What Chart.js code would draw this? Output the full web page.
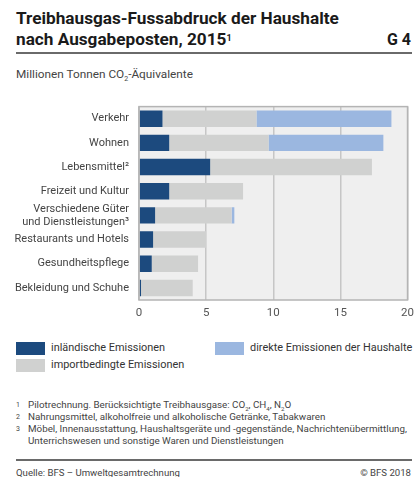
<!DOCTYPE html>
<html><head><meta charset="utf-8">
<script src="https://cdn.jsdelivr.net/npm/chart.js@4/dist/chart.umd.min.js"></script>
<style>
html,body{margin:0;padding:0;background:#fff;width:420px;height:477px;overflow:hidden;font-family:Roboto,"Liberation Sans",sans-serif;color:#222}
.abs{position:absolute;white-space:nowrap}
#title{left:16px;top:8px;font-size:17.2px;font-weight:bold;line-height:21px;color:#1a1a1a}
#title sup{font-size:9px;vertical-align:top;position:relative;top:-1px}
#gnum{right:9px;top:30px;font-size:16px;font-weight:bold;color:#1a1a1a}
.rule{left:16px;width:396px;height:2px;background:#6a6a6a}
#sub{left:16px;top:67px;font-size:11.8px;color:#444}
#sub sub{font-size:7px}
.sw{width:29px;height:13px}
.lt{font-size:10.9px;color:#333}
.fn{left:16px;font-size:9.8px;color:#444;line-height:12px}
.fn span{display:inline-block;width:12px;font-size:7px;vertical-align:top}
#chartwrap{left:0;top:90px;width:420px;height:235px}
</style></head><body>
<div id="title" class="abs">Treibhausgas-Fussabdruck der Haushalte<br>nach Ausgabeposten, 2015<sup>1</sup></div>
<div id="gnum" class="abs">G 4</div>
<div class="abs rule" style="top:52px"></div>
<div id="sub" class="abs">Millionen Tonnen CO<sub>2</sub>-Äquivalente</div>
<div id="chartwrap" class="abs"><canvas id="c" width="420" height="235"></canvas></div>

<div class="abs sw" style="left:16px;top:342px;background:#1c4a7e"></div>
<div class="abs lt" style="left:51px;top:341px">inländische Emissionen</div>
<div class="abs sw" style="left:16px;top:359px;background:#d0d1d0"></div>
<div class="abs lt" style="left:51px;top:358px">importbedingte Emissionen</div>
<div class="abs sw" style="left:215px;top:342px;background:#9bb7e0"></div>
<div class="abs lt" style="left:250px;top:341px">direkte Emissionen der Haushalte</div>

<div class="abs fn" style="top:399px"><span>1</span>Pilotrechnung. Berücksichtigte Treibhausgase: CO<sub style="font-size:6px">2</sub>, CH<sub style="font-size:6px">4</sub>, N<sub style="font-size:6px">2</sub>O</div>
<div class="abs fn" style="top:411px"><span>2</span>Nahrungsmittel, alkoholfreie und alkoholische Getränke, Tabakwaren</div>
<div class="abs fn" style="top:423px"><span>3</span>Möbel, Innenausstattung, Haushaltsgeräte und -gegenstände, Nachrichtenübermittlung,<br><span></span>Unterrichswesen und sonstige Waren und Dienstleistungen</div>
<div class="abs rule" style="top:459px;height:1.5px"></div>
<div class="abs fn" style="top:467px;font-size:9.6px">Quelle: BFS – Umweltgesamtrechnung</div>
<div class="abs fn" style="top:467px;left:auto;right:9px;font-size:9.6px">© BFS 2018</div>

<script>
const categories = ["Verkehr", "Wohnen", "Lebensmittel²", "Freizeit und Kultur", ["Verschiedene Güter", "und Dienstleistungen³"], "Restaurants und Hotels", "Gesundheitspflege", "Bekleidung und Schuhe"];
const inlaendisch = [1.75, 2.25, 5.3, 2.25, 1.2, 1.05, 0.95, 0.15];
const importbedingt = [7.0, 7.4, 12.05, 5.5, 5.7, 3.95, 3.45, 3.85];
const direkt = [10.05, 8.55, 0, 0, 0.2, 0, 0, 0];
const xTicks = [0, 5, 10, 15, 20];

const bgPlugin = {
  id: 'bg',
  beforeDraw(chart) {
    const {ctx, chartArea: a} = chart;
    ctx.save();
    ctx.fillStyle = '#efefef';
    ctx.fillRect(a.left, a.top, a.right - a.left, a.bottom - a.top);
    ctx.restore();
  },
  afterDraw(chart) {
    const {ctx, chartArea: a} = chart;
    ctx.save();
    ctx.strokeStyle = '#b4b4b4';
    ctx.lineWidth = 1.5;
    ctx.strokeRect(a.left, a.top, a.right - a.left, a.bottom - a.top);
    ctx.restore();
  }
};

new Chart(document.getElementById('c'), {
  type: 'bar',
  data: {
    labels: categories,
    datasets: [
      {label: 'inländische Emissionen', data: inlaendisch, backgroundColor: '#1c4a7e'},
      {label: 'importbedingte Emissionen', data: importbedingt, backgroundColor: '#d0d1d0'},
      {label: 'direkte Emissionen der Haushalte', data: direkt, backgroundColor: '#9bb7e0'}
    ]
  },
  options: {
    indexAxis: 'y',
    responsive: false,
    animation: false,
    datasets: {bar: {barPercentage: 0.68, categoryPercentage: 1.0, borderWidth: 0}},
    layout: {padding: {left: 0, right: 9, top: 3, bottom: 0}},
    plugins: {legend: {display: false}, tooltip: {enabled: false}},
    scales: {
      x: {
        stacked: true, min: 0, max: 20,
        afterBuildTicks(s) { s.ticks = xTicks.map(v => ({value: v})); },
        afterFit(s) { s.height = 25; },
        grid: {color: '#c6c6c6', lineWidth: 1.5, drawTicks: false},
        border: {display: false},
        ticks: {color: '#555', font: {family: 'Roboto', size: 11.5}, padding: 6}
      },
      y: {
        stacked: true,
        afterFit(s) { s.width = 139; },
        grid: {display: false, drawTicks: false},
        border: {display: false},
        ticks: {color: '#444', font: {family: 'Roboto', size: 11, lineHeight: 1.2}, padding: 10, autoSkip: false}
      }
    }
  },
  plugins: [bgPlugin]
});
</script>
</body></html>
